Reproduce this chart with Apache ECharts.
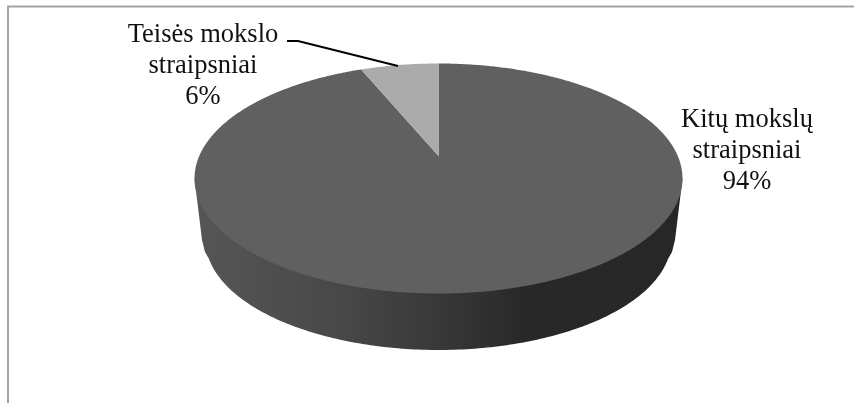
<!DOCTYPE html>
<html><head><meta charset="utf-8">
<style>html,body{margin:0;padding:0;background:#fff}#c{width:854px;height:403px}</style>
<script src="https://cdn.jsdelivr.net/npm/echarts@6/dist/echarts.min.js"></script>
</head><body><div id="c"></div>
<script>
var categories = ['Kitų mokslų\nstraipsniai', 'Teisės mokslo\nstraipsniai'];
var values = [94, 6];
var sliceColors = ['#606060', '#ababab'];
var labelCentres = [[747, 151], [203, 66]];

var TOP = {cx: 438.5, cy: 178.5, rx: 244, ry: 115};
var BOTTOM = {cx: 438.5, cy: 240, rx: 233, ry: 110, shoulderDx: 236.5, shoulderY: 240, kneeDx: 233.5, kneeY: 252};
var APEX = {x: 438.5, y: 156, k: 0.443};
var total = values.reduce(function (a, b) { return a + b; }, 0);

function rim(theta) {
  var dx = Math.sin(theta), dy = -APEX.k * Math.cos(theta);
  var ox = (APEX.x - TOP.cx) / TOP.rx, oy = (APEX.y - TOP.cy) / TOP.ry;
  var vx = dx / TOP.rx, vy = dy / TOP.ry;
  var a = vx * vx + vy * vy, b = 2 * (ox * vx + oy * vy), c = ox * ox + oy * oy - 1;
  var t = (-b + Math.sqrt(b * b - 4 * a * c)) / (2 * a);
  return [APEX.x + t * dx, APEX.y + t * dy];
}
function startShare(i) {
  var s = 0;
  for (var j = 0; j < i; j++) s += values[j];
  return s / total;
}
function renderWall() {
  var pts = [
    [TOP.cx - TOP.rx, TOP.cy],
    [BOTTOM.cx - BOTTOM.shoulderDx, BOTTOM.shoulderY],
    [BOTTOM.cx - BOTTOM.kneeDx, BOTTOM.kneeY]
  ];
  for (var d = 170; d >= 10; d -= 1) {
    var r = d * Math.PI / 180;
    pts.push([BOTTOM.cx + BOTTOM.rx * Math.cos(r), BOTTOM.cy + BOTTOM.ry * Math.sin(r)]);
  }
  pts.push(
    [BOTTOM.cx + BOTTOM.kneeDx, BOTTOM.kneeY],
    [BOTTOM.cx + BOTTOM.shoulderDx, BOTTOM.shoulderY],
    [TOP.cx + TOP.rx, TOP.cy]
  );
  return {
    type: 'polygon', shape: {points: pts}, silent: true,
    style: {fill: new echarts.graphic.LinearGradient(0, 0, 1, 0, [
      {offset: 0, color: '#565656'},
      {offset: 0.3, color: '#484848'},
      {offset: 0.5, color: '#383838'},
      {offset: 0.68, color: '#282828'},
      {offset: 1, color: '#272727'}
    ])}
  };
}
function renderSlice(params, api) {
  var i = params.dataIndex;
  var a0 = startShare(i) * 2 * Math.PI;
  var a1 = (startShare(i) + api.value(0) / total) * 2 * Math.PI;
  var pts = [[APEX.x, APEX.y]];
  var n = Math.max(2, Math.ceil((a1 - a0) * 180 / Math.PI * 2));
  for (var k = 0; k <= n; k++) pts.push(rim(a0 + (a1 - a0) * k / n));
  return {type: 'polygon', shape: {points: pts}, silent: true, style: {fill: sliceColors[i]}};
}
function renderLabel(params, api) {
  var i = params.dataIndex;
  var pct = Math.round(api.value(0) / total * 100) + '%';
  return {
    type: 'text', silent: true, x: labelCentres[i][0], y: labelCentres[i][1],
    style: {
      text: categories[i] + '\n' + pct,
      fill: '#111', font: '26.5px "Liberation Serif"', lineHeight: 31,
      align: 'center', verticalAlign: 'middle'
    }
  };
}
var chart = echarts.init(document.getElementById('c'), null, {renderer: 'canvas'});
chart.setOption({
  animation: false,
  backgroundColor: '#fff',
  tooltip: {show: false},
  graphic: [
    {type: 'polyline', silent: true, z: 1, shape: {points: [[8, 403], [8, 6.5], [854, 6.5]]},
     style: {stroke: '#a3a3a3', lineWidth: 2, fill: null}},
    {type: 'polyline', silent: true, z: 5, shape: {points: [[287, 41], [298, 41], [398, 66]]},
     style: {stroke: '#000', lineWidth: 2, fill: null}}
  ],
  series: [
    {type: 'custom', coordinateSystem: 'none', data: [1], renderItem: renderWall, z: 2},
    {type: 'custom', coordinateSystem: 'none', data: values, renderItem: renderSlice, z: 3},
    {type: 'custom', coordinateSystem: 'none', data: values, renderItem: renderLabel, z: 4}
  ]
});
</script></body></html>
